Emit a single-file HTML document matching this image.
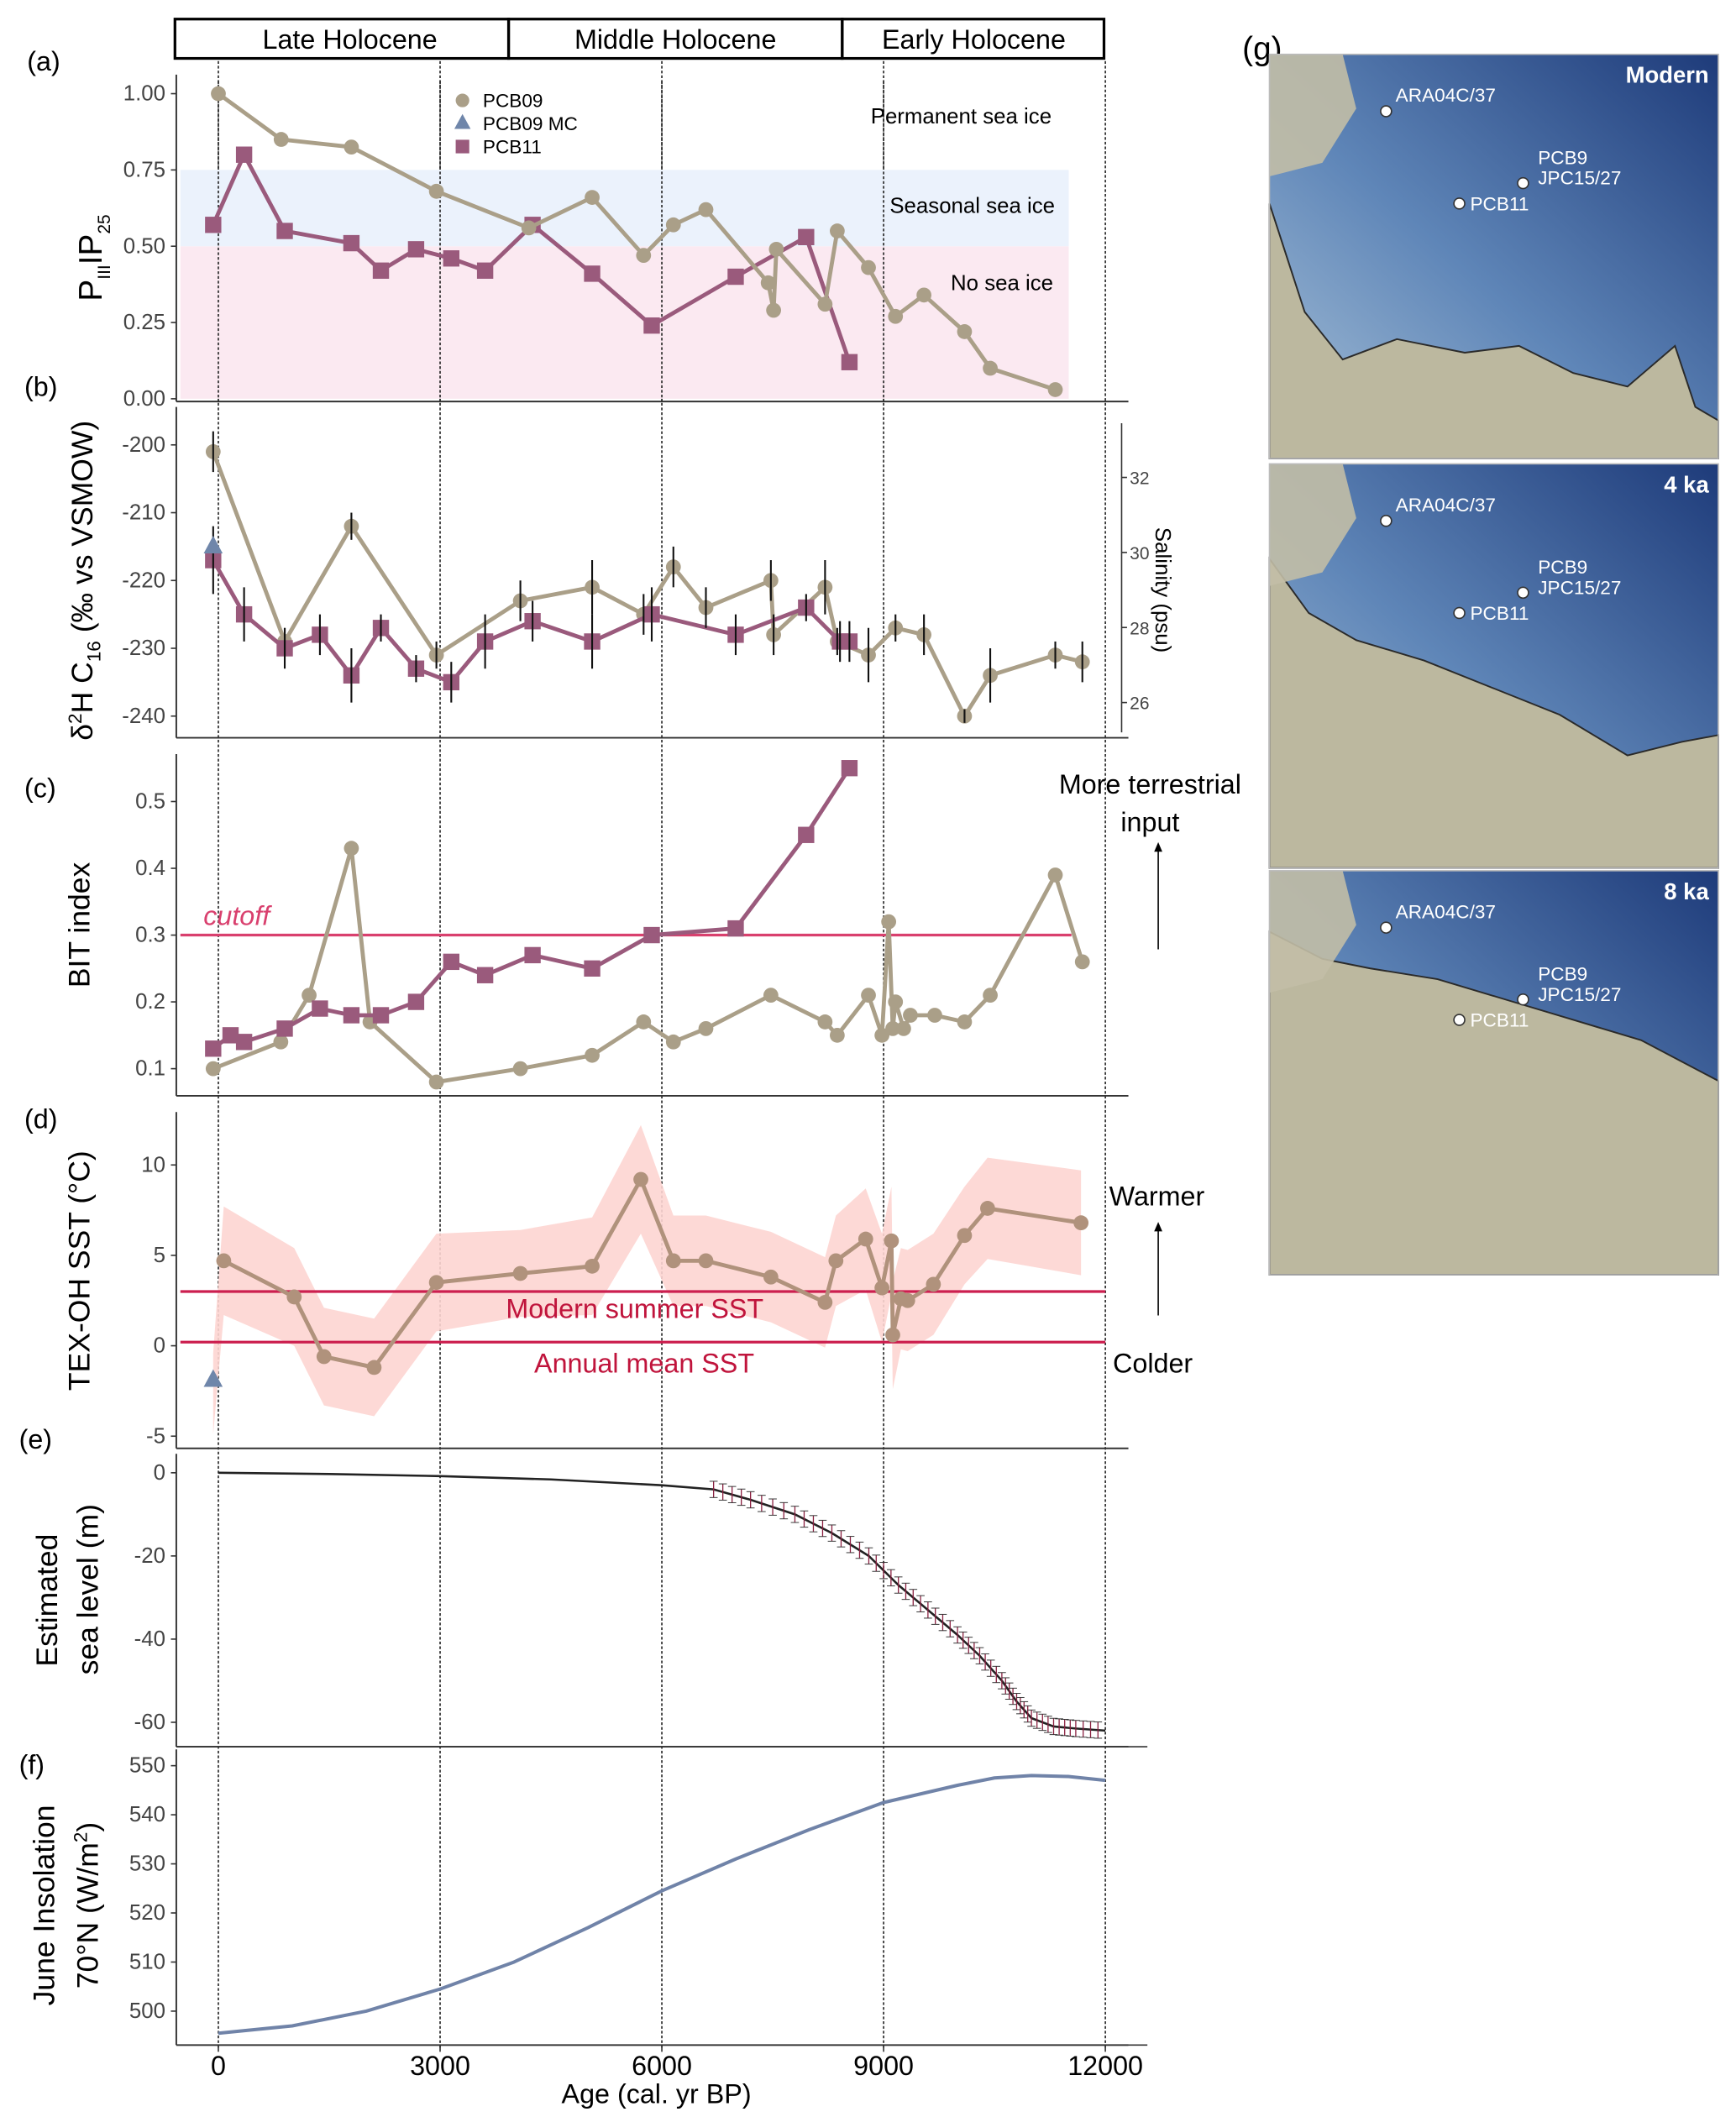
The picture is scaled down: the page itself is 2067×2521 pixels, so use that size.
<!DOCTYPE html>
<html><head><meta charset="utf-8"><style>
html,body{margin:0;padding:0;background:#fff}
svg{display:block}
text{font-family:"Liberation Sans",sans-serif}
</style></head><body>
<svg id="fig" width="2067" height="2521" viewBox="0 0 1280 1561" xmlns="http://www.w3.org/2000/svg">
<defs>
<linearGradient id="sea" x1="0" y1="1" x2="1" y2="0"><stop offset="0" stop-color="#a9c2d8"/><stop offset="0.45" stop-color="#5f86b8"/><stop offset="1" stop-color="#1e3b7a"/></linearGradient>
</defs>
<g id="header">
<rect x="129" y="14" width="246" height="29" fill="none" stroke="#000" stroke-width="2"/>
<rect x="375" y="14" width="246" height="29" fill="none" stroke="#000" stroke-width="2"/>
<rect x="621" y="14" width="193" height="29" fill="none" stroke="#000" stroke-width="2"/>
<text x="258" y="36" font-size="20" text-anchor="middle">Late Holocene</text>
<text x="498" y="36" font-size="20" text-anchor="middle">Middle Holocene</text>
<text x="718" y="36" font-size="20" text-anchor="middle">Early Holocene</text>
</g>
<g id="plots"></g>
<g id="maps"></g>
</svg>
<script>
const NS="http://www.w3.org/2000/svg";
const g=document.getElementById('plots');
function mk(tag,attrs,parent,txt){const e=document.createElementNS(NS,tag);for(const k in attrs)e.setAttribute(k,attrs[k]);if(txt!==undefined)e.textContent=txt;(parent||g).appendChild(e);return e;}
const X=a=>161+a*(654/12000);
const C09="#aa9f88",C11="#9a5a7c",CMC="#6f86aa";

// ---- data ----
const aAge09=[0,850,1800,2950,4200,5057,5753,6156,6596,7439,7512,7549,8208,8373,8795,9161,9546,10095,10443,11323];
const aVal09=[1.00,0.85,0.825,0.68,0.56,0.66,0.47,0.57,0.62,0.38,0.29,0.49,0.31,0.55,0.43,0.27,0.34,0.22,0.10,0.03];
const aAge11=[-70,348,898,1800,2199,2675,3151,3609,4251,5057,5863,6999,7952,8538];
const aVal11=[0.57,0.80,0.55,0.51,0.42,0.49,0.46,0.42,0.57,0.41,0.24,0.40,0.53,0.12];

const bAge09=[-70,898,1800,2950,4086,5057,5753,6156,6596,7475,7512,8208,8373,8795,9161,9546,10095,10443,11323,11689];
const bVal09=[-201,-229,-212,-231,-223,-221,-225,-218,-224,-220,-228,-221,-229,-231,-227,-228,-240,-234,-231,-232];
const bErr09=[3,2,2,2,3,4,3,3,3,3,3,4,2,4,2,3,1,4,2,3];
const bAge11=[-70,348,898,1374,1800,2199,2675,3151,3609,4251,5057,5863,6999,7952,8410,8538];
const bVal11=[-217,-225,-230,-228,-234,-227,-233,-235,-229,-226,-229,-225,-228,-224,-229,-229];
const bErr11=[5,4,3,3,4,2,2,3,4,3,4,4,3,2,3,3];
const bAgeMC=[-70], bValMC=[-215];

const cAge11=[-70,165,348,898,1374,1800,2199,2675,3151,3609,4251,5057,5863,6999,7952,8538];
const cVal11=[0.13,0.15,0.14,0.16,0.19,0.18,0.18,0.20,0.26,0.24,0.27,0.25,0.30,0.31,0.45,0.55];
const cAge09=[-70,845,1228,1800,2052,2950,4086,5057,5753,6156,6596,7475,8208,8373,8795,8978,9069,9124,9161,9271,9362,9692,10095,10443,11323,11689];
const cVal09=[0.10,0.14,0.21,0.43,0.17,0.08,0.10,0.12,0.17,0.14,0.16,0.21,0.17,0.15,0.21,0.15,0.32,0.16,0.20,0.16,0.18,0.18,0.17,0.21,0.39,0.26];

const dAge=[73,1026,1429,2107,2950,4086,5057,5716,6156,6596,7475,8208,8355,8758,8978,9106,9124,9234,9326,9674,10095,10407,11671];
const dVal=[4.7,2.7,-0.6,-1.2,3.5,4.0,4.4,9.2,4.7,4.7,3.8,2.4,4.7,5.9,3.2,5.8,0.6,2.6,2.5,3.4,6.1,7.6,6.8];
const dErr=[3,2.7,2.7,2.7,2.7,2.4,2.7,3,2.5,2.5,2.5,2.5,2.5,2.8,3,3,3,2.8,2.8,2.8,2.7,2.8,2.9];
const dAgeMC=[-70], dValMC=[-1.9];

const eAge=[0,1500,3000,4500,6000,6700,7200,7800,8300,8800,9200,9600,10000,10300,10600,10800,11000,11300,11600,12000];
const eVal=[0,-0.3,-0.8,-1.6,-3,-4,-6.5,-10,-14.5,-20,-27,-33,-39,-44,-50,-55,-59,-61,-61.5,-62];

const fAge=[0,1000,2000,3000,4000,5000,6000,7000,8000,9000,10000,10500,11000,11500,12000];
const fVal=[495.5,497,500,504.5,510,517,524.5,531,537,542.5,546,547.5,548,547.8,547];

// ---- helpers ----
function lin(v0,p0,v1,p1){return v=>p0+(v-v0)*(p1-p0)/(v1-v0);}
function axisLeft(Y,ticks,fmt,x,name){ticks.forEach(t=>{const y=Y(t);
 const tx=mk('text',{x:x-8,y:y+5,'font-size':16,'text-anchor':'end',fill:'#444'},g,fmt(t));
 
 mk('line',{x1:x-4,x2:x,y1:y,y2:y,stroke:'#333'});});}
function frame(top,bot,name){const L=mk('line',{x1:130,x2:130,y1:top,y2:bot,stroke:'#333','stroke-width':1.2});
 
 const B=mk('line',{x1:130,x2:832,y1:bot,y2:bot,stroke:'#333','stroke-width':1.2});
 }
function series(ages,vals,X,Y,color,shape,name,size){
 mk('polyline',{points:ages.map((a,i)=>X(a)+','+Y(vals[i])).join(' '),fill:'none',stroke:color,'stroke-width':3});
 ages.forEach((a,i)=>{const x=X(a),y=Y(vals[i]);let e;
  if(shape==='sq')e=mk('rect',{x:x-6,y:y-6,width:12,height:12,fill:color});
  else if(shape==='tri')e=mk('polygon',{points:`${x},${y-8} ${x-7},${y+5} ${x+7},${y+5}`,fill:color});
  else e=mk('circle',{cx:x,cy:y,r:size||5.5,fill:color});
  });}
function ylabel(txt,x,y,name,size){const t=mk('text',{x:x,y:y,'font-size':size||22,'text-anchor':'middle',transform:`rotate(-90 ${x} ${y})`},g);t.innerHTML=txt;
 return t;}
function plabel(s,x,y){const t=mk('text',{x:x,y:y,'font-size':20},g,s);}

// vertical dotted lines
[0,3000,6000,9000,12000].forEach(a=>{const l=mk('line',{x1:X(a),x2:X(a),y1:45,y2:1510,stroke:'#222','stroke-width':1,'stroke-dasharray':'2,1.5'});
 });

// ---- panel a ----
{const Y=lin(0,294,1,69);
 const r1=mk('rect',{x:133,y:Y(0.5),width:655,height:Y(0)-Y(0.5),fill:'#fbe9f1'});
 const r2=mk('rect',{x:133,y:Y(0.75),width:655,height:Y(0.5)-Y(0.75),fill:'#ebf2fc'});
 [0,3000,6000,9000].forEach(a=>mk('line',{x1:X(a),x2:X(a),y1:60,y2:296,stroke:'#222','stroke-width':1,'stroke-dasharray':'2,1.5'}));
 frame(55,296,'panel-a');
 axisLeft(Y,[0,0.25,0.5,0.75,1],t=>t.toFixed(2),130,'panel-a');
 series(aAge11,aVal11,X,Y,C11,'sq','pcb11-ipso25');
 series(aAge09,aVal09,X,Y,C09,'c','pcb09-ipso25');
 ylabel('P<tspan font-size="13" dy="6">III</tspan><tspan dy="-6">IP</tspan><tspan font-size="13" dy="6">25</tspan>',75,190,'panel-a-y-title',24);
 [['Permanent sea ice',642,91],['Seasonal sea ice',656,157],['No sea ice',701,214]].forEach(([s,x,y])=>{const t=mk('text',{x:x,y:y,'font-size':16},g,s);});
 const lg=mk('g',{},g);
 mk('circle',{cx:341,cy:74,r:5,fill:C09},lg);mk('text',{x:356,y:79,'font-size':14},lg,'PCB09');
 mk('polygon',{points:'341,84 335,95 347,95',fill:CMC},lg);mk('text',{x:356,y:96,'font-size':14},lg,'PCB09 MC');
 mk('rect',{x:336,y:103,width:10,height:10,fill:C11},lg);mk('text',{x:356,y:113,'font-size':14},lg,'PCB11');
 plabel('(a)',20,52);}

// ---- panel b ----
{const Y=lin(-200,328,-240,528);
 frame(300,544,'panel-b');
 axisLeft(Y,[-200,-210,-220,-230,-240],t=>t,130,'panel-b');
 const bars=(ages,vals,errs)=>ages.forEach((a,i)=>{const l=mk('line',{x1:X(a),x2:X(a),y1:Y(vals[i]+errs[i]),y2:Y(vals[i]-errs[i]),stroke:'#111','stroke-width':1.3});});
 series(bAge09,bVal09,X,Y,C09,'c','pcb09-d2h');
 series(bAge11,bVal11,X,Y,C11,'sq','pcb11-d2h');
 bars(bAge09,bVal09,bErr09);bars(bAge11,bVal11,bErr11);
 series(bAgeMC,bValMC,X,Y,CMC,'tri','pcb09mc-d2h');
 const S=lin(32,352,26,518);
 const ax=mk('line',{x1:827,x2:827,y1:312,y2:540,stroke:'#333'});
 [32,30,28,26].forEach(s=>{mk('line',{x1:827,x2:831,y1:S(s),y2:S(s),stroke:'#333'});const t=mk('text',{x:833,y:S(s)+5,'font-size':13,fill:'#444'},g,s);});
 const st=mk('text',{x:852,y:435,'font-size':16,'text-anchor':'middle',transform:'rotate(90 852 435)'},g,'Salinity (psu)');
 ylabel('δ<tspan font-size="14" dy="-8">2</tspan><tspan dy="8">H C</tspan><tspan font-size="14" dy="6">16</tspan><tspan dy="-6"> (‰ vs VSMOW)</tspan>',68,428,'panel-b-y-title',22);
 plabel('(b)',18,292);}

// ---- panel c ----
{const Y=lin(0.5,591,0.1,788);
 frame(556,808,'panel-c');
 axisLeft(Y,[0.1,0.2,0.3,0.4,0.5],t=>t.toFixed(1),130,'panel-c');
 const cl=mk('line',{x1:133,x2:790,y1:Y(0.3),y2:Y(0.3),stroke:'#d9406e','stroke-width':2});
 const ct=mk('text',{x:150,y:682,'font-size':20,'font-style':'italic',fill:'#d9406e'},g,'cutoff');
 series(cAge09,cVal09,X,Y,C09,'c','pcb09-bit');
 series(cAge11,cVal11,X,Y,C11,'sq','pcb11-bit');
 ylabel('BIT index',66,682,'panel-c-y-title',22);
 const t1=mk('text',{x:848,y:585,'font-size':20,'text-anchor':'middle'},g,'More terrestrial');
 mk('text',{x:848,y:613,'font-size':20,'text-anchor':'middle'},g,'input');
 mk('line',{x1:854,x2:854,y1:700,y2:626,stroke:'#000'});mk('polygon',{points:'854,621 851,628 857,628',fill:'#000'});
 plabel('(c)',18,588);}

// ---- panel d ----
{const Y=lin(10,859,-5,1059);
 frame(820,1068,'panel-d');
 axisLeft(Y,[-5,0,5,10],t=>t,130,'panel-d');
 const up=dAge.map((a,i)=>X(a)+','+Y(dVal[i]+dErr[i])),lo=dAge.map((a,i)=>X(a)+','+Y(dVal[i]-dErr[i])).reverse();
 const st=[X(-70)+','+Y(-1.9+1.5)],sl=[X(-70)+','+Y(-1.9-3)];
 const band=mk('polygon',{points:st.concat(up,lo,sl).join(' '),fill:'#fdd5d2',opacity:0.9});
 const m=mk('line',{x1:133,x2:815,y1:Y(3),y2:Y(3),stroke:'#cc1f4f','stroke-width':2});
 const n=mk('line',{x1:133,x2:815,y1:Y(0.2),y2:Y(0.2),stroke:'#cc1f4f','stroke-width':2});
 series(dAge,dVal,X,Y,'#b0927c','c','tex-oh-sst');
 series(dAgeMC,dValMC,X,Y,CMC,'tri','tex-oh-mc');
 const t1=mk('text',{x:468,y:972,'font-size':20,'text-anchor':'middle',fill:'#c0143c'},g,'Modern summer SST');
 const t2=mk('text',{x:475,y:1012,'font-size':20,'text-anchor':'middle',fill:'#c0143c'},g,'Annual mean SST');
 ylabel('TEX-OH SST (°C)',66,937,'panel-d-y-title',22);
 mk('text',{x:853,y:889,'font-size':20,'text-anchor':'middle'},g,'Warmer');mk('text',{x:850,y:1012,'font-size':20,'text-anchor':'middle'},g,'Colder');
 mk('line',{x1:854,x2:854,y1:970,y2:906,stroke:'#000'});mk('polygon',{points:'854,901 851,908 857,908',fill:'#000'});
 plabel('(d)',18,832);}

// ---- panel e ----
{const Y=lin(0,1086,-60,1270);
 frame(1072,1288,'panel-e');
 mk('line',{x1:130,x2:846,y1:1288,y2:1288,stroke:'#333'});
 axisLeft(Y,[0,-20,-40,-60],t=>t,130,'panel-e');
 const p=mk('polyline',{points:eAge.map((a,i)=>X(a)+','+Y(eVal[i])).join(' '),fill:'none',stroke:'#222','stroke-width':1.6});
 
 eAge.forEach((a,i)=>{if(a<6700)return;for(let k=0;k<4;k++){if(i+1>=eAge.length)break;const aa=a+(eAge[i+1]-a)*k/4,vv=eVal[i]+(eVal[i+1]-eVal[i])*k/4;const x=X(aa),y=Y(vv);
  const e=mk('line',{x1:x,x2:x,y1:y-6,y2:y+6,stroke:'#8a2040','stroke-width':0.8});
  mk('line',{x1:x-3,x2:x+3,y1:y-6,y2:y-6,stroke:'#333','stroke-width':0.6});mk('line',{x1:x-3,x2:x+3,y1:y+6,y2:y+6,stroke:'#333','stroke-width':0.6});}});
 ylabel('Estimated',42,1180,'panel-e-y-title',22);ylabel('sea level (m)',72,1172,'panel-e-y-title-2',22);
 plabel('(e)',14,1068);}

// ---- panel f ----
{const Y=lin(550,1302,500,1483);
 frame(1290,1508,'panel-f');
 mk('line',{x1:130,x2:846,y1:1508,y2:1508,stroke:'#333'});
 axisLeft(Y,[500,510,520,530,540,550],t=>t,130,'panel-f');
 const p=mk('polyline',{points:fAge.map((a,i)=>X(a)+','+Y(fVal[i])).join(' '),fill:'none',stroke:'#7083a8','stroke-width':2.5,'stroke-linejoin':'round'});
 
 ylabel('June Insolation',40,1405,'panel-f-y-title',22);ylabel('70°N (W/m<tspan font-size="14" dy="-8">2</tspan><tspan dy="8">)</tspan>',72,1405,'panel-f-y-title-2',22);
 [0,3000,6000,9000,12000].forEach(a=>{mk('line',{x1:X(a),x2:X(a),y1:1508,y2:1513,stroke:'#333'});const t=mk('text',{x:X(a),y:1530,'font-size':20,'text-anchor':'middle'},g,a);});
 const xt=mk('text',{x:484,y:1551,'font-size':20,'text-anchor':'middle'},g,'Age (cal. yr BP)');
 plabel('(f)',14,1308);}

// ---- maps ----
const M=document.getElementById('maps');
const gl=mk('text',{x:916,y:44,'font-size':24},M,'(g)');
const maps=[[40,'Modern',0],[342,'4 ka',1],[642,'8 ka',2]];
const coast=[
 'M936,150 L962,230 L990,265 L1030,250 L1080,260 L1120,255 L1160,275 L1200,285 L1235,255 L1250,300 L1267,310 L1267,338 L936,338 Z',
 'M936,110 L965,150 L1000,170 L1050,185 L1100,205 L1150,225 L1200,255 L1240,245 L1267,240 L1267,338 L936,338 Z',
 'M936,85 L975,105 L1010,112 L1060,120 L1110,135 L1160,150 L1210,165 L1267,195 L1267,338 L936,338 Z'];
maps.forEach(([y0,lab,k])=>{
 const mg=mk('g',{transform:`translate(0,${y0-40})`},M);
 mk('rect',{x:936,y:40,width:331,height:298,fill:'url(#sea)'},mg);
 mk('path',{d:coast[k],fill:'#bcb89f',stroke:'#2a2a2a','stroke-width':1.2},mg);
 mk('path',{d:'M936,40 L990,40 L1000,80 L975,120 L936,130 Z',fill:'#c2bea6',opacity:0.9},mg);
 mk('rect',{x:936,y:40,width:331,height:298,fill:'none',stroke:'#bbb'},mg);
 mk('text',{x:1260,y:61,'font-size':17,'font-weight':'bold',fill:'#fff','text-anchor':'end'},mg,lab);
 [['ARA04C/37',1022,82,1029,75],['PCB11',1076,150,1084,155],['PCB9',1123,135,1134,121]].forEach(([s,cx,cy,tx,ty])=>{
  const c=mk('circle',{cx:cx,cy:cy,r:4,fill:'#fff',stroke:'#333'},mg);
  mk('text',{x:tx,y:ty,'font-size':14,fill:'#fff'},mg,s);});
 mk('text',{x:1134,y:136,'font-size':14,fill:'#fff'},mg,'JPC15/27');
});
</script>
</body></html>
